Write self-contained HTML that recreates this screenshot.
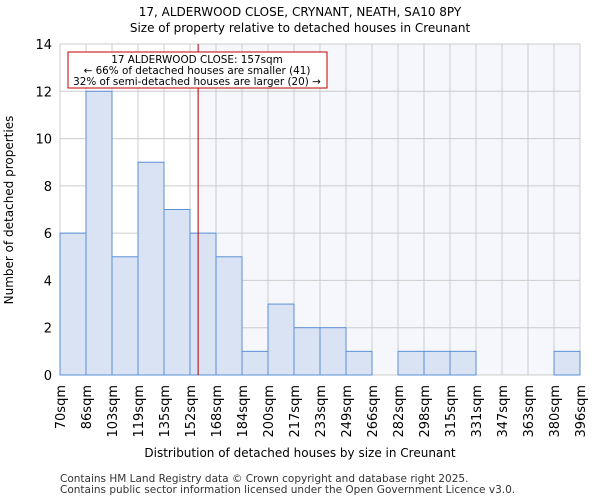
<!DOCTYPE html>
<html><head><meta charset="utf-8"><style>
body{margin:0;background:#fff;font-family:"DejaVu Sans","Liberation Sans",sans-serif}
svg{display:block}
</style></head><body>
<svg id="c" width="600" height="500" xmlns="http://www.w3.org/2000/svg">
<text x="300" y="16" text-anchor="middle" font-size="12">17, ALDERWOOD CLOSE, CRYNANT, NEATH, SA10 8PY</text>
<text x="300" y="32" text-anchor="middle" font-size="12">Size of property relative to detached houses in Creunant</text>
<g id="plot"></g>
<text x="300" y="457" text-anchor="middle" font-size="12">Distribution of detached houses by size in Creunant</text>
<text transform="translate(13,210) rotate(-90)" text-anchor="middle" font-size="12">Number of detached properties</text>
<text x="60" y="482" font-size="10.5" fill="#333">Contains HM Land Registry data © Crown copyright and database right 2025.</text>
<text x="60" y="493" font-size="10.5" fill="#333">Contains public sector information licensed under the Open Government Licence v3.0.</text>
</svg>
<script>
const binLabels=["70sqm","86sqm","103sqm","119sqm","135sqm","152sqm","168sqm","184sqm","200sqm","217sqm","233sqm","249sqm","266sqm","282sqm","298sqm","315sqm","331sqm","347sqm","363sqm","380sqm","396sqm"];
const binEdges=[70,86,103,119,135,152,168,184,200,217,233,249,266,282,298,315,331,347,363,380,396];
const counts=[6,12,5,9,7,6,5,1,3,2,2,1,0,1,1,1,0,0,0,1];
const yTicks=[0,2,4,6,8,10,12,14];
const subjectSize=157;
const NS="http://www.w3.org/2000/svg";
const L=60,R=580,T=44,B=375,yMax=14;
const g=document.getElementById('plot');
const n=counts.length,bw=(R-L)/n;
function xi(i){return L+i*bw;}
function xv(v){for(let i=0;i<binEdges.length-1;i++){if(v<=binEdges[i+1])return xi(i)+bw*(v-binEdges[i])/(binEdges[i+1]-binEdges[i]);}return R;}
function y(v){return B-(B-T)*v/yMax;}
function mk(t,a){const e=document.createElementNS(NS,t);for(const k in a)e.setAttribute(k,a[k]);g.appendChild(e);return e;}
const sx=xv(subjectSize);
let e=mk('rect',{x:sx,y:T,width:R-sx,height:B-T,fill:'#f5f7fd'});


for(let i=0;i<=n;i++){e=mk('line',{x1:xi(i),x2:xi(i),y1:T,y2:B,stroke:'#cccccc','stroke-width':1});

}
yTicks.forEach(t=>{e=mk('line',{x1:L,x2:R,y1:y(t),y2:y(t),stroke:'#cccccc','stroke-width':1});


e=mk('text',{x:L-8,y:y(t)+5,'text-anchor':'end','font-size':13});e.textContent=t;

});
counts.forEach((c,i)=>{if(c<=0)return;e=mk('rect',{x:xi(i),y:y(c),width:bw,height:B-y(c),fill:'#dae3f3',stroke:'#5b8fd6','stroke-width':1});

});
binLabels.forEach((l,i)=>{e=mk('text',{transform:`translate(${xi(i)+5},385) rotate(-90)`,'text-anchor':'end','font-size':13});e.textContent=l;

});
e=mk('line',{x1:sx,x2:sx,y1:T,y2:B,stroke:'#b00000','stroke-width':1});


e=mk('rect',{x:68,y:52,width:259,height:36,fill:'#fff',stroke:'#c00000','stroke-width':1});


["17 ALDERWOOD CLOSE: 157sqm","← 66% of detached houses are smaller (41)","32% of semi-detached houses are larger (20) →"].forEach((s,k)=>{e=mk('text',{x:197,y:63+k*11,'text-anchor':'middle','font-size':10.4});e.textContent=s;

});
</script>
</body></html>
